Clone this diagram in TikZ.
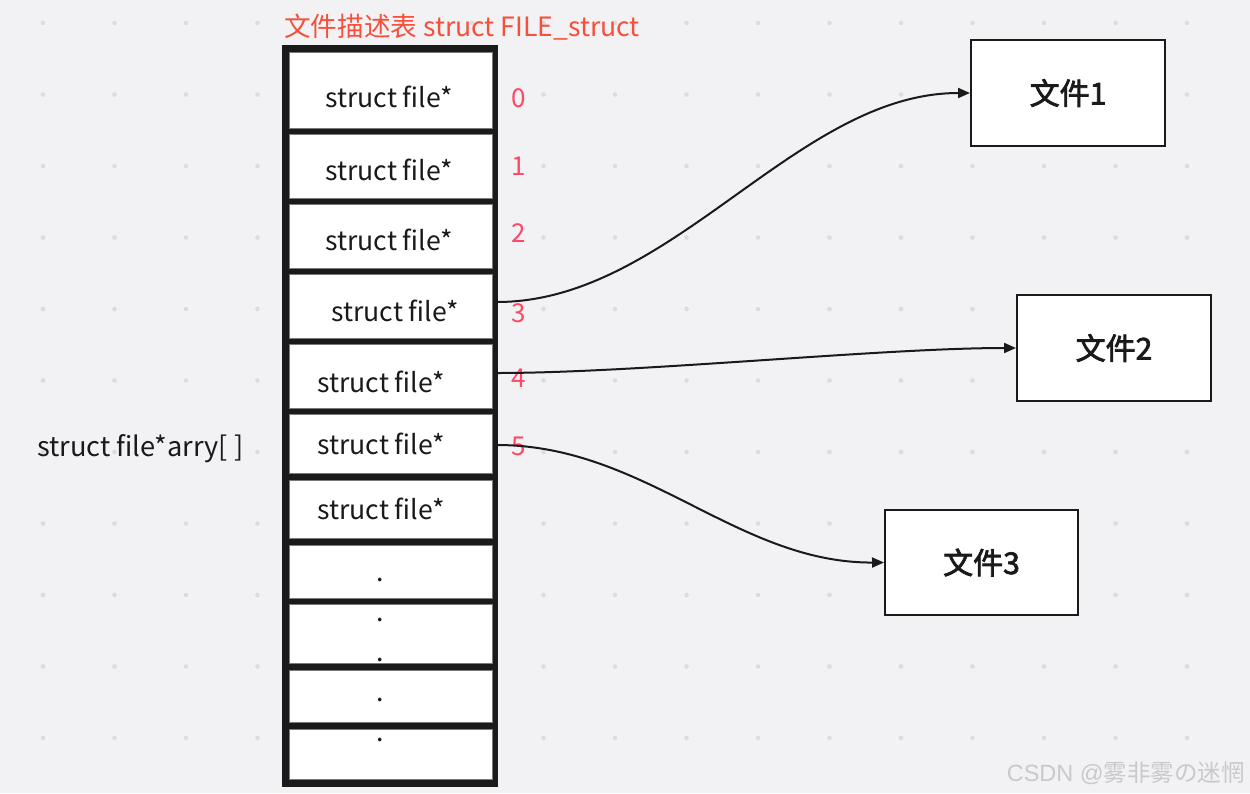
\documentclass[tikz,border=0pt]{standalone}
\usepackage{fontspec}
\setmainfont{Noto Sans CJK SC}
\newfontfamily\medfont{Noto Sans CJK SC}[FakeBold=2.5]
\newfontfamily\wmfont{Liberation Sans}
\usetikzlibrary{arrows.meta}
\definecolor{bgc}{HTML}{F2F2F4}
\definecolor{dotc}{HTML}{DCDCDF}
\definecolor{tblk}{HTML}{1A1A1A}
\definecolor{cellb}{HTML}{7A7A7A}
\definecolor{txt}{HTML}{1A1A1A}
\definecolor{idxc}{HTML}{FF4766}
\definecolor{titlec}{HTML}{F4503C}
\definecolor{wmc}{HTML}{C9C9CB}
\tikzset{
  cell/.style={draw=cellb, line width=1pt, fill=white, minimum width=203pt, inner sep=0pt},
  celltxt/.style={anchor=base, inner sep=0pt, text=txt, font=\fontsize{26.6}{30}\selectfont},
  idx/.style={anchor=base, inner sep=0pt, text=idxc, font=\fontsize{26}{30}\selectfont},
  filebox/.style={draw=txt, line width=2pt, fill=white, minimum width=194pt, minimum height=106pt, inner sep=0pt, font=\fontsize{30}{34}\medfont, text=txt},
  link/.style={draw=txt, line width=2pt, -{Triangle[length=12pt,width=10pt]}},
}
\begin{document}
\begin{tikzpicture}[x=1pt,y=-1pt]
\useasboundingbox (0,0) rectangle (1250,793);
\fill[bgc] (0,0) rectangle (1250,793);
% dot grid
\foreach \i in {0,...,16}{
  \foreach \j in {0,...,10}{
    \fill[dotc] (43+71.5*\i,23+71.5*\j) circle[radius=2.3pt];
  }
}
% title
\node[anchor=base west, inner sep=0pt, text=titlec, font=\fontsize{26.6}{30}\selectfont] (title) at (284,36) {文件描述表 struct FILE\_struct};
% table frame
\node[fill=tblk, minimum width=216pt, minimum height=742pt, inner sep=0pt] (tbl) at (390,416) {};
% cells
\node[cell, minimum height=76pt] (c0) at (390.5,90) {};
\node[cell, minimum height=64pt] (c1) at (390.5,166) {};
\node[cell, minimum height=64pt] (c2) at (390.5,236) {};
\node[cell, minimum height=64pt] (c3) at (390.5,306) {};
\node[cell, minimum height=64pt] (c4) at (390.5,376) {};
\node[cell, minimum height=59pt] (c5) at (390.5,443.5) {};
\node[cell, minimum height=58pt] (c6) at (390.5,509) {};
\node[cell, minimum height=53pt] (c7) at (390.5,571.5) {};
\node[cell, minimum height=59pt] (c8) at (390.5,633.5) {};
\node[cell, minimum height=52pt] (c9) at (390.5,696) {};
\node[cell, minimum height=50pt] (c10) at (390.5,754) {};
% cell texts
\node[celltxt] (t0) at (389,107) {struct file*};
\node[celltxt] (t1) at (389,180) {struct file*};
\node[celltxt] (t2) at (389,250) {struct file*};
\node[celltxt] (t3) at (395,321) {struct file*};
\node[celltxt] (t4) at (381,392) {struct file*};
\node[celltxt] (t5) at (381,454) {struct file*};
\node[celltxt] (t6) at (381,519) {struct file*};
\node[celltxt] (d7) at (380,581) {.};
\node[celltxt] (d8a) at (380,621) {.};
\node[celltxt] (d8b) at (380,661) {.};
\node[celltxt] (d9) at (380,701) {.};
\node[celltxt] (d10) at (380,741) {.};
% indices
\node[idx] (i0) at (519,107) {0};
\node[idx] (i1) at (519,175) {1};
\node[idx] (i2) at (519,242) {2};
\node[idx] (i3) at (519,322) {3};
\node[idx] (i4) at (519,387) {4};
\node[idx] (i5) at (519,455) {5};
% left label
\node[anchor=base west, inner sep=0pt, text=txt, font=\fontsize{27.2}{30}\selectfont] (arr) at (37,456) {struct file*arry[ ]};
% file boxes
\node[filebox] (f1) at (1068,93) {文件1};
\node[filebox] (f2) at (1114,348) {文件2};
\node[filebox, minimum width=193pt, minimum height=105pt] (f3) at (981.5,562.5) {文件3};
% connectors
\coordinate (s3) at (497,302);
\coordinate (s4) at (497,373);
\coordinate (s5) at (497,445);
\draw[link] (s3) .. controls (672,302) and (796,93) .. (f1.west);
\draw[link] (s4) .. controls (640,373) and (880,348) .. (f2.west);
\draw[link] (s5) .. controls (645,445) and (737,563) .. (f3.west);
% watermark
\node[anchor=base east, inner sep=0pt, text=wmc, font=\fontsize{23.5}{26}\selectfont] (wm) at (1245,781) {{\wmfont CSDN @}雾非雾の迷惘};
\end{tikzpicture}
\end{document}
